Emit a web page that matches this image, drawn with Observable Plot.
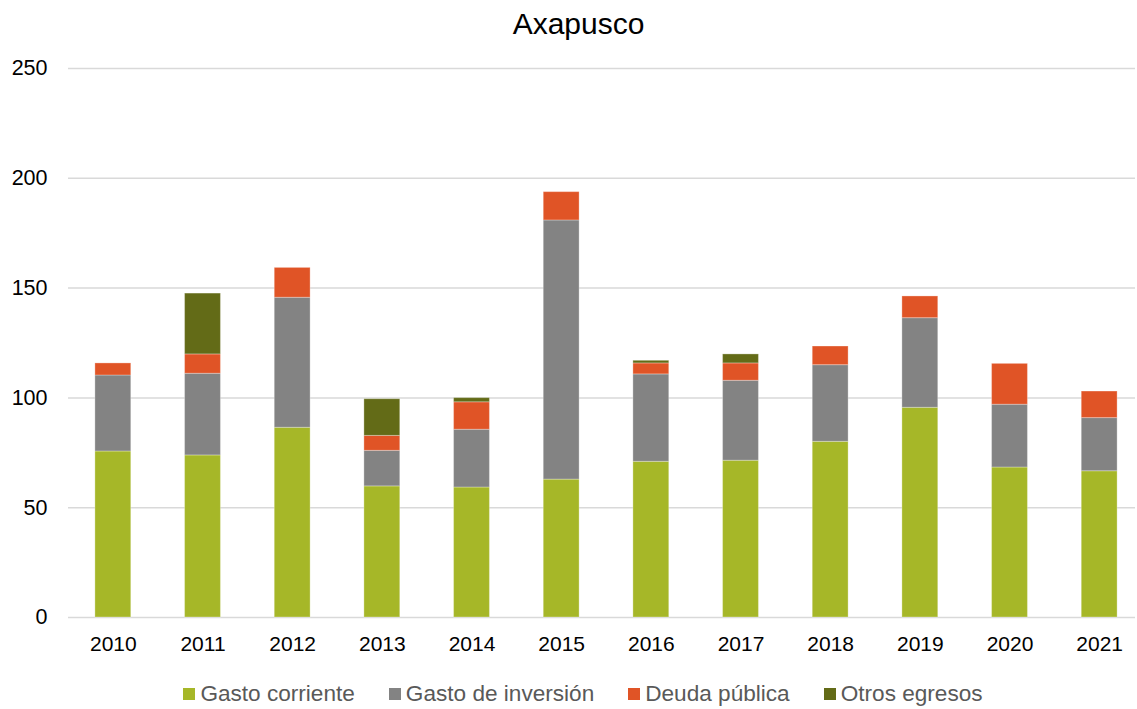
<!DOCTYPE html>
<html>
<head>
<meta charset="utf-8">
<script src="https://cdn.jsdelivr.net/npm/d3@7"></script>
<script src="https://cdn.jsdelivr.net/npm/@observablehq/plot@0.6"></script>
<style>
  html, body { margin: 0; padding: 0; background: #fff; overflow: hidden; }
  body { width: 1137px; height: 709px; font-family: "Liberation Sans", Arial, sans-serif; }
  #title { height: 48px; line-height: 48px; text-align: center; font-size: 30px; color: #000; padding-left: 20px; }
  #legend { display: flex; justify-content: center; align-items: center; margin-top: 20px; font-size: 22.6px; color: #595959; padding-left: 29px; height: 24px; }
  #legend .item { display: flex; align-items: center; margin-right: 34px; }
  #legend .item:last-child { margin-right: 0; }
  #legend .sw { width: 12px; height: 12px; margin-right: 5px; }
</style>
</head>
<body>
<div id="title">Axapusco</div>
<div id="chart"></div>
<div id="legend"></div>
<script>
const years = ["2010","2011","2012","2013","2014","2015","2016","2017","2018","2019","2020","2021"];
const seriesNames = ["Gasto corriente", "Gasto de inversión", "Deuda pública", "Otros egresos"];
const seriesColors = ["#a6b728", "#838383", "#e05426", "#636b17"];
const gastoCorriente = [75.6, 73.8, 86.4, 59.7, 59.2, 62.8, 70.9, 71.4, 80.0, 95.5, 68.3, 66.6];
const gastoInversion = [34.6, 37.2, 59.2, 16.2, 26.3, 118.0, 39.8, 36.4, 34.9, 40.8, 28.6, 24.2];
const deudaPublica   = [5.5, 8.8, 13.6, 6.8, 12.5, 12.9, 5.0, 7.9, 8.5, 9.9, 18.6, 12.1];
const otrosEgresos   = [0, 27.7, 0, 16.7, 1.9, 0, 1.2, 4.1, 0, 0, 0, 0];
const yTicks = [0, 50, 100, 150, 200, 250];

const seriesValues = [gastoCorriente, gastoInversion, deudaPublica, otrosEgresos];
const rows = [];
years.forEach((yr, i) => {
  seriesNames.forEach((s, j) => {
    rows.push({year: yr, serie: s, value: seriesValues[j][i]});
  });
});

const chart = Plot.plot({
  width: 1137,
  height: 614,
  marginTop: 20,
  marginBottom: 45,
  marginLeft: 68,
  marginRight: 2,
  style: {fontFamily: "'Liberation Sans', Arial, sans-serif", color: "#000", background: "#fff"},
  x: {domain: years, range: [68, 1144], paddingInner: 0.6, paddingOuter: 0.3, round: false, label: null},
  y: {domain: [0, 250], label: null},
  color: {domain: seriesNames, range: seriesColors},
  marks: [
    Plot.ruleY(yTicks, {stroke: "#d9d9d9", strokeWidth: 1.5}),
    Plot.barY(rows, {x: "year", y: "value", fill: "serie", stroke: "#ffffff", strokeOpacity: 0.3, strokeWidth: 1}),
    Plot.axisX({tickSize: 0, tickPadding: 19, fontSize: 21, label: null}),
    Plot.axisY({ticks: yTicks, tickSize: 0, tickPadding: 21, fontSize: 21.5, label: null})
  ]
});
document.getElementById("chart").appendChild(chart);

const legend = document.getElementById("legend");
seriesNames.forEach((s, j) => {
  const it = document.createElement("div");
  it.className = "item";
  const sw = document.createElement("div");
  sw.className = "sw";
  sw.style.background = seriesColors[j];
  const tx = document.createElement("span");
  tx.textContent = s;
  it.appendChild(sw);
  it.appendChild(tx);
  legend.appendChild(it);
});
</script>
</body>
</html>
